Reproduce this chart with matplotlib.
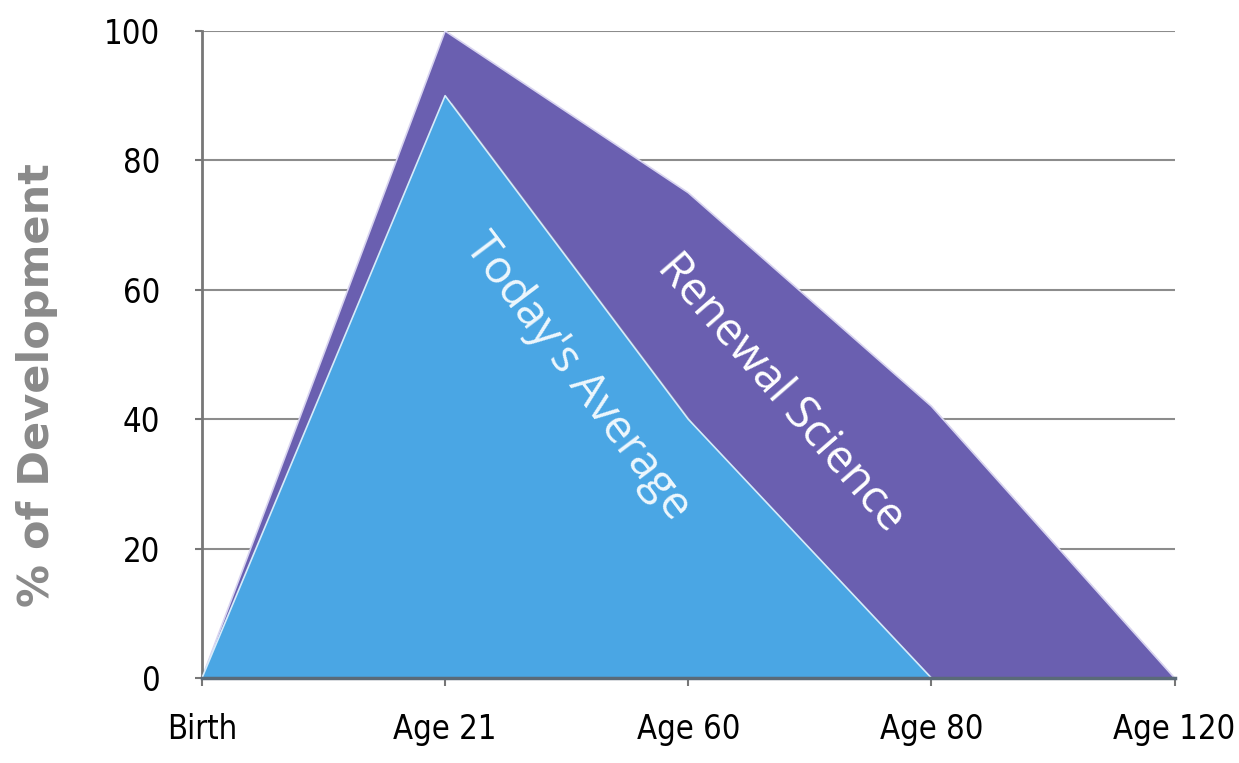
import matplotlib
matplotlib.use("Agg")
import matplotlib.pyplot as plt
import matplotlib.patheffects as pe

# 데이터
stages = ["Birth", "Age 21", "Age 60", "Age 80", "Age 120"]
renewal = [0, 100, 75, 42, 0]
today = [0, 90, 40, 0, 0]
yticks = [0, 20, 40, 60, 80, 100]

purple = "#6a5fb0"
blue = "#4aa6e4"
x = list(range(len(stages)))

fig = plt.figure(figsize=(12.39, 7.63), dpi=100)
ax = fig.add_axes([0.163, 0.1114, 0.785, 0.848])

for y in yticks[1:]:
    ax.axhline(y, color="#8c8c8c", lw=1.5, zorder=0)

shadow = [pe.SimplePatchShadow(offset=(5, -5), shadow_rgbFace="#aaaaaa", alpha=0.45), pe.Normal()]
ax.fill_between(x, renewal, color=purple, edgecolor="#d8d4f0", lw=1.2, zorder=2, path_effects=shadow)
ax.fill_between(x[:4], today[:4], color=blue, edgecolor="#d6ecfa", lw=1.2, zorder=3, path_effects=shadow)

ax.text(1.545, 46.5, "Today's Average", rotation=-53, color="#eef7fd", fontsize=33,
        family="Open Sans", ha="center", va="center", rotation_mode="anchor", zorder=5)
ax.text(2.38, 44, "Renewal Science", rotation=-49, color="white", fontsize=33,
        family="Open Sans", ha="center", va="center", rotation_mode="anchor", zorder=5)

ax.set_xlim(0, 4)
ax.set_ylim(0, 100)
ax.set_xticks(x)
ax.set_xticklabels(stages)
ax.set_yticks(yticks)
for lab in ax.get_xticklabels() + ax.get_yticklabels():
    lab.set_family("DejaVu Sans")
    lab.set_stretch("condensed")
    lab.set_fontsize(23.5)
ax.tick_params(axis="x", length=6, width=1.5, color="#777777", pad=19)
ax.tick_params(axis="y", length=5, width=1.5, color="#777777", pad=25)

for s in ["top", "right"]:
    ax.spines[s].set_visible(False)
ax.spines["left"].set_color("#777777")
ax.spines["left"].set_linewidth(2)
ax.spines["bottom"].set_color("#5a6a78")
ax.spines["bottom"].set_linewidth(2.5)
ax.spines["bottom"].set_zorder(4)

fig.text(0.03, 0.495, "% of Development", rotation=90, color="#8a8a8a", fontsize=31,
         fontweight="bold", family="DejaVu Sans", ha="center", va="center")

fig.savefig("out.png", dpi=100, facecolor="white")
